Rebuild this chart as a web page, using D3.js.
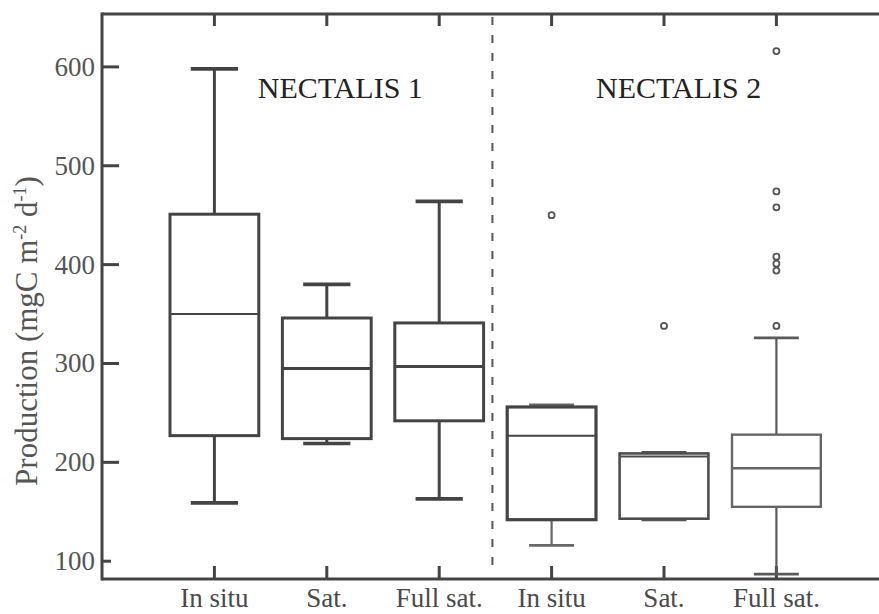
<!DOCTYPE html>
<html>
<head>
<meta charset="utf-8">
<script src="https://cdn.jsdelivr.net/npm/d3@7"></script>
<style>
  body { margin: 0; background: #fff; }
  svg { display: block; }
  text { font-family: "Liberation Serif", "DejaVu Serif", serif; }
</style>
</head>
<body>
<div id="chart"></div>
<script>
// box plot data, one entry per box (left to right)
var categories = ["In situ", "Sat.", "Full sat.", "In situ", "Sat.", "Full sat."];
var campaigns = ["NECTALIS 1", "NECTALIS 2"];
var whiskerLow  = [159, 219, 163, 116, 142, 87];
var q1          = [227, 224, 242, 142, 143, 155];
var median      = [350, 295, 297, 227, 206, 194];
var q3          = [451, 346, 341, 256, 209, 228];
var whiskerHigh = [598, 380, 464, 258, 210, 326];
var outliers = [[], [], [], [450], [338], [616, 474, 458, 408, 401, 394, 338]];
var yTicks = [100, 200, 300, 400, 500, 600];

var W = 879, H = 614;
var plotLeft = 102, plotTop = 14, plotBottom = 579;

var svg = d3.select("#chart").append("svg")
    .attr("width", W)
    .attr("height", H);

var x = d3.scaleLinear().domain([0, 7]).range([plotLeft, plotLeft + 7 * 112.4]);
var y = d3.scaleLinear().domain([82, 653.5]).range([plotBottom, plotTop]);

// per box look (NECTALIS 2 boxes get lighter / thinner)
var boxColor   = ["#444", "#444", "#444", "#444", "#4d4d4d", "#666"];
var boxWidth   = [3, 3, 3, 3.2, 2.6, 2.4];
var medWidth   = [2, 3, 3, 2, 2, 2.6];
var whiskColor = ["#444", "#444", "#444", "#666", "#555", "#5a5a5a"];
var whiskWidth = [3, 3, 3, 2.2, 2.4, 2.2];
var capHalf    = [0.21, 0.21, 0.21, 0.2, 0.2, 0.2];
var boxHalf = 0.395;

var boxes = categories.map(function(c, i) {
    return {i: i, pos: i + 1, name: c, lo: whiskerLow[i], q1: q1[i], med: median[i],
            q3: q3[i], hi: whiskerHigh[i], out: outliers[i]};
});

// frame
var axisColor = "#444";
svg.append("line").attr("x1", plotLeft).attr("x2", W).attr("y1", plotTop).attr("y2", plotTop)
    .style("stroke", axisColor).style("stroke-width", 3);
svg.append("line").attr("x1", plotLeft).attr("x2", W).attr("y1", plotBottom).attr("y2", plotBottom)
    .style("stroke", axisColor).style("stroke-width", 3);
svg.append("line").attr("x1", plotLeft).attr("x2", plotLeft).attr("y1", plotTop - 1.5).attr("y2", plotBottom + 1.5)
    .style("stroke", axisColor).style("stroke-width", 3);

// y ticks (inward) and labels
svg.selectAll(".ytick").data(yTicks).enter().append("line")
    .attr("x1", plotLeft).attr("x2", function(d) { return d == 100 ? plotLeft + 9 : plotLeft + 17; })
    .attr("y1", function(d) { return y(d); }).attr("y2", function(d) { return y(d); })
    .style("stroke", axisColor).style("stroke-width", 3);
svg.selectAll(".ylabel").data(yTicks).enter().append("text")
    .text(function(d) { return d; })
    .attr("x", 95)
    .attr("y", function(d) { return y(d) + 9; })
    .attr("text-anchor", "end")
    .style("font-size", "27px")
    .style("fill", "#555");

// x ticks top and bottom, inward
svg.selectAll(".xtickb").data(boxes).enter().append("line")
    .attr("x1", function(d) { return x(d.pos); }).attr("x2", function(d) { return x(d.pos); })
    .attr("y1", plotBottom).attr("y2", plotBottom - 13)
    .style("stroke", axisColor).style("stroke-width", 3);
svg.selectAll(".xtickt").data(boxes).enter().append("line")
    .attr("x1", function(d) { return x(d.pos); }).attr("x2", function(d) { return x(d.pos); })
    .attr("y1", plotTop).attr("y2", plotTop + 12)
    .style("stroke", axisColor).style("stroke-width", 3);
svg.selectAll(".xlabel").data(boxes).enter().append("text")
    .text(function(d) { return d.name; })
    .attr("x", function(d) { return x(d.pos); })
    .attr("y", 607)
    .attr("text-anchor", "middle")
    .style("font-size", "27px")
    .style("fill", "#4a4a4a");

// y axis title
var ytitle = svg.append("text")
    .attr("transform", "translate(37,331) rotate(-90)")
    .attr("text-anchor", "middle")
    .style("font-size", "31px")
    .style("fill", "#555");
ytitle.append("tspan").text("Production (mgC m");
ytitle.append("tspan").text("-2").attr("dy", -11).style("font-size", "18px");
ytitle.append("tspan").text(" d").attr("dy", 11);
ytitle.append("tspan").text("-1").attr("dy", -11).style("font-size", "18px");
ytitle.append("tspan").text(")").attr("dy", 11);

// divider between campaigns
svg.append("line")
    .attr("x1", x(3.5) - 3).attr("x2", x(3.5) - 3)
    .attr("y1", plotTop + 3).attr("y2", 567)
    .style("stroke", "#555").style("stroke-width", 2)
    .style("stroke-dasharray", "8,10");

// campaign titles
svg.selectAll(".camp").data(campaigns).enter().append("text")
    .text(function(d) { return d; })
    .attr("x", function(d, i) { return i == 0 ? x(2.12) : x(5.13); })
    .attr("y", 98)
    .attr("text-anchor", "middle")
    .style("font-size", "30px")
    .style("fill", "#222");

// boxes
var g = svg.selectAll(".box").data(boxes).enter().append("g");

// whisker stems
g.append("line")
    .attr("x1", function(d) { return x(d.pos); }).attr("x2", function(d) { return x(d.pos); })
    .attr("y1", function(d) { return y(d.q3); }).attr("y2", function(d) { return y(d.hi); })
    .style("stroke", function(d) { return whiskColor[d.i]; })
    .style("stroke-width", function(d) { return whiskWidth[d.i]; });
g.append("line")
    .attr("x1", function(d) { return x(d.pos); }).attr("x2", function(d) { return x(d.pos); })
    .attr("y1", function(d) { return y(d.q1); }).attr("y2", function(d) { return y(d.lo); })
    .style("stroke", function(d) { return whiskColor[d.i]; })
    .style("stroke-width", function(d) { return whiskWidth[d.i]; });
// caps
g.append("line")
    .attr("x1", function(d) { return x(d.pos - capHalf[d.i]); })
    .attr("x2", function(d) { return x(d.pos + capHalf[d.i]); })
    .attr("y1", function(d) { return y(d.hi); }).attr("y2", function(d) { return y(d.hi); })
    .style("stroke", function(d) { return whiskColor[d.i]; })
    .style("stroke-width", function(d) { return whiskWidth[d.i] + 0.6; });
g.append("line")
    .attr("x1", function(d) { return x(d.pos - capHalf[d.i]); })
    .attr("x2", function(d) { return x(d.pos + capHalf[d.i]); })
    .attr("y1", function(d) { return y(d.lo); }).attr("y2", function(d) { return y(d.lo); })
    .style("stroke", function(d) { return whiskColor[d.i]; })
    .style("stroke-width", function(d) { return whiskWidth[d.i] + 0.6; });

// box
g.append("rect")
    .attr("x", function(d) { return x(d.pos - boxHalf); })
    .attr("width", x(2 * boxHalf) - x(0))
    .attr("y", function(d) { return y(d.q3); })
    .attr("height", function(d) { return y(d.q1) - y(d.q3); })
    .style("fill", "none")
    .style("stroke", function(d) { return boxColor[d.i]; })
    .style("stroke-width", function(d) { return boxWidth[d.i]; });

// median
g.append("line")
    .attr("x1", function(d) { return x(d.pos - boxHalf); })
    .attr("x2", function(d) { return x(d.pos + boxHalf); })
    .attr("y1", function(d) { return y(d.med); }).attr("y2", function(d) { return y(d.med); })
    .style("stroke", function(d) { return boxColor[d.i]; })
    .style("stroke-width", function(d) { return medWidth[d.i]; });

// outliers
g.selectAll("circle")
    .data(function(d) { return d.out.map(function(v) { return {pos: d.pos, v: v}; }); })
    .enter().append("circle")
    .attr("cx", function(o) { return x(o.pos); })
    .attr("cy", function(o) { return y(o.v); })
    .attr("r", 3)
    .style("fill", "none")
    .style("stroke", "#555")
    .style("stroke-width", 1.8);
</script>
</body>
</html>
